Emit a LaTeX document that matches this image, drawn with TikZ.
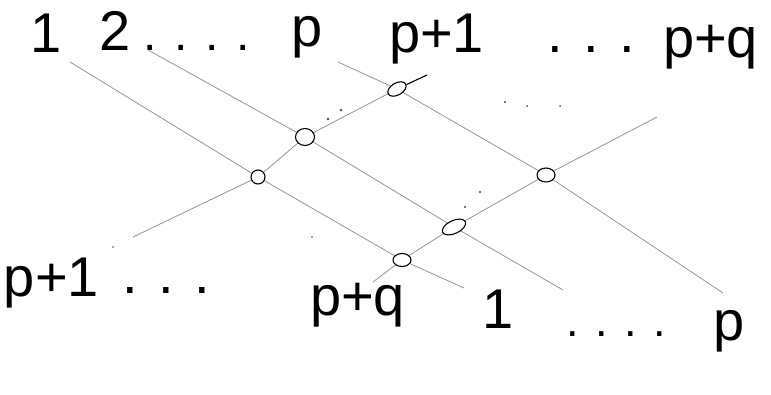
\documentclass[tikz,border=0pt]{standalone}
\usepackage{fontspec}
\setmainfont{Liberation Sans}
\usetikzlibrary{shapes.geometric}
\begin{document}
\begin{tikzpicture}[x=1pt,y=-1pt,
  strand/.style={draw=black!42, line width=0.8pt},
  knot/.style={draw=black, fill=white, line width=1.1pt, ellipse, inner sep=0pt},
  lab/.style={inner sep=0pt, outer sep=0pt, anchor=base west, font=\fontsize{56}{60}\selectfont},
  labc/.style={lab, anchor=base},
  dts/.style={inner sep=0pt, outer sep=0pt, anchor=base west},
  speck/.style={fill=black!70}
]
\useasboundingbox (0,0) rectangle (771,394);

% labels, top row
\node[labc] (t1) at (46,52) {1};
\node[labc] (t2) at (115,50) {2};
\node[dts, font=\fontsize{48}{50}\selectfont] (td1) at (143,50) {. . . .};
\node[lab] (tp) at (291,46) {p};
\node[lab] (tp1) at (389,52) {p+1};
\node[dts, font=\fontsize{56}{60}\selectfont] (td2) at (547,52) {. . .};
\node[lab] (tpq) at (663,57) {p+q};

% labels, bottom row
\node[lab] (bp1) at (4,296) {p+1};
\node[dts, font=\fontsize{56}{60}\selectfont] (bd1) at (122,293) {. . .};
\node[lab] (bpq) at (310,315) {p+q};
\node[labc] (b1) at (498,328) {1};
\node[dts, font=\fontsize{45}{48}\selectfont] (bd2) at (566,336) {. . . .};
\node[lab] (bp) at (713,340) {p};

% strand ends
\coordinate (s1) at (70,62);   \coordinate (e1) at (464,288);
\coordinate (s2) at (148,50);  \coordinate (e2) at (563,290);
\coordinate (sp) at (338,62);  \coordinate (ep) at (723,293);
\coordinate (sq1) at (133,237); \coordinate (eq1) at (427,75);
\coordinate (sq) at (373,282); \coordinate (eq) at (657,117);

% crossing positions
\coordinate (a) at (258,177);
\coordinate (b) at (305,137);
\coordinate (c) at (397,89);
\coordinate (d) at (402,260);
\coordinate (e) at (454,227);
\coordinate (f) at (546,175);

% strands going down to the right
\draw[strand] (s1) -- (a) -- (d) -- (e1);
\draw[strand] (s2) -- (b) -- (e) -- (e2);
\draw[strand] (sp) -- (c) -- (f) -- (ep);
% strands going up to the right
\draw[strand] (sq1) -- (a) -- (b) -- (c);
\draw[strand] (sq) -- (d) -- (e) -- (f) -- (eq);

% crossing marks
\node[knot, minimum width=14pt, minimum height=14pt] (A) at (a) {};
\node[knot, minimum width=19pt, minimum height=17pt] (B) at (b) {};
\node[knot, minimum width=20pt, minimum height=12pt, rotate=30] (C) at (c) {};
\node[knot, minimum width=18pt, minimum height=13pt] (D) at (d) {};
\node[knot, minimum width=25pt, minimum height=13pt, rotate=25] (E) at (e) {};
\node[knot, minimum width=18pt, minimum height=14pt] (F) at (f) {};
\draw[black, line width=1.1pt] (C) -- (eq1);

% dots standing for omitted strands
\fill[speck] (328,119) circle (1.3pt);
\fill[speck] (341,110) circle (1.3pt);
\fill[speck] (505,102) circle (1.2pt);
\fill[speck] (527,106) circle (1.0pt);
\fill[speck] (560,106) circle (1.0pt);
\fill[speck] (465,207) circle (1.2pt);
\fill[speck] (480,192) circle (1.2pt);
\fill[speck] (113,247) circle (0.9pt);
\fill[speck] (312,237) circle (0.9pt);
\end{tikzpicture}
\end{document}
